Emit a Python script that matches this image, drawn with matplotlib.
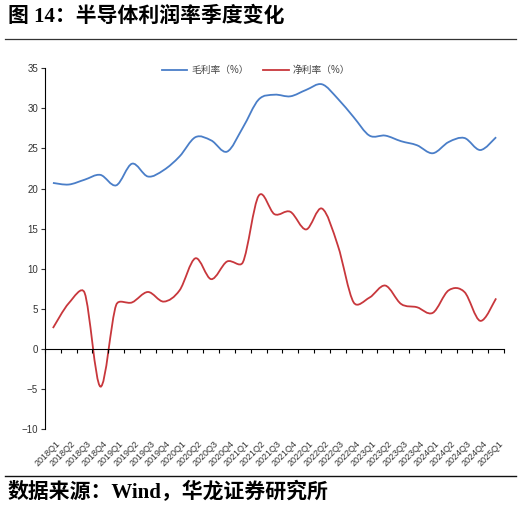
import numpy as np
import matplotlib
matplotlib.use('Agg')
import matplotlib.pyplot as plt
from matplotlib.path import Path
from matplotlib.patches import PathPatch
from matplotlib.lines import Line2D
import matplotlib.transforms as mtransforms

plt.rcParams['font.family'] = ['Liberation Sans', 'Noto Sans CJK SC', 'DejaVu Sans']

# quarters 2018Q1 .. 2025Q1
quarters = ['%dQ%d' % (y, q) for y in range(2018, 2026) for q in range(1, 5)][:29]

# gross margin (%)
gross = [20.7, 20.5, 21.1, 21.7, 20.4, 23.1, 21.5, 22.3, 24.0, 26.4,
         26.0, 24.6, 27.6, 31.1, 31.7, 31.5, 32.3, 33.0, 31.2, 28.9,
         26.6, 26.6, 25.9, 25.4, 24.4, 25.8, 26.3, 24.8, 26.4]
# net margin (%)
net = [2.6, 5.7, 7.0, -4.7, 5.5, 5.8, 7.1, 5.9, 7.3, 11.3,
       8.7, 10.9, 10.8, 19.1, 16.8, 17.1, 14.9, 17.5, 12.9, 5.8,
       6.4, 7.9, 5.6, 5.2, 4.5, 7.3, 7.1, 3.5, 6.3]

names = ['毛利率（%）', '净利率（%）']
colors = ['#4a7ec8', '#c8373c']
yticks = [35, 30, 25, 20, 15, 10, 5, 0, -5, -10]


def smooth_path(ax, x, y, cap=0.45):
    # excel-like smoothed line: catmull-rom bezier on screen, control arms
    # capped relative to the neighbouring segment length
    pts = ax.transData.transform(np.column_stack([x, y]).astype(float))
    n = len(pts)
    c_in = pts.copy()
    c_out = pts.copy()
    for i in range(n):
        p_prev = pts[max(i - 1, 0)]
        p_next = pts[min(i + 1, n - 1)]
        d = (p_next - p_prev) / 6.0
        arm = np.hypot(*d)
        if arm == 0:
            continue
        l_in = np.hypot(*(pts[i] - p_prev))
        l_out = np.hypot(*(p_next - pts[i]))
        c_out[i] = pts[i] + d * min(1.0, cap * l_out / arm)
        c_in[i] = pts[i] - d * min(1.0, cap * l_in / arm)
    verts = [pts[0]]
    codes = [Path.MOVETO]
    for i in range(n - 1):
        verts += [c_out[i], c_in[i + 1], pts[i + 1]]
        codes += [Path.CURVE4] * 3
    return Path(ax.transData.inverted().transform(np.array(verts)), codes)


fig = plt.figure(figsize=(5.21, 5.17), dpi=100)
ax = fig.add_axes([0.0864, 0.170, 0.881, 0.698])

x = np.arange(len(quarters))
ax.set_xlim(-0.5, len(quarters) - 0.5)
ax.set_ylim(-10, 35)
for vals, c in zip([gross, net], colors):
    ax.add_patch(PathPatch(smooth_path(ax, x, vals), facecolor='none', edgecolor=c, lw=1.3))

ax.set_yticks(yticks)
ax.tick_params(axis='y', labelsize=7, length=3, width=0.8, colors='#333333', pad=2)

ax.spines['top'].set_visible(False)
ax.spines['right'].set_visible(False)
ax.spines['bottom'].set_position(('data', 0))
ax.spines['left'].set_linewidth(0.8)
ax.spines['bottom'].set_linewidth(0.8)
ax.set_xticks(np.arange(len(quarters) + 1) - 0.5)
ax.set_xticklabels([])
ax.tick_params(axis='x', length=3, width=0.8, direction='out')

trans = mtransforms.blended_transform_factory(ax.transData, ax.transAxes)
for i, q in enumerate(quarters):
    ax.text(i + 0.15, -0.028, q, transform=trans, rotation=45, ha='right', va='top',
            fontsize=6.5, color='#333333', rotation_mode='anchor')

handles = [Line2D([], [], color=c, lw=1.3) for c in colors]
ax.legend(handles, names, loc='center', bbox_to_anchor=(0.46, 0.995), ncol=2,
          frameon=False, fontsize=7, handlelength=2.6, handletextpad=0.4,
          columnspacing=1.5, labelcolor='#444444')

title_font = ['Liberation Serif', 'Noto Sans CJK SC']
fig.text(0.015, 0.967, '图 14：半导体利润率季度变化', fontsize=15, fontweight='bold',
         family=title_font, va='center', ha='left')
fig.add_artist(Line2D([0.01, 0.99], [0.924, 0.924], color='#333333', lw=0.9))
fig.add_artist(Line2D([0.01, 0.99], [0.079, 0.079], color='#111111', lw=1.0))
fig.text(0.015, 0.048, '数据来源：Wind，华龙证券研究所', fontsize=15, fontweight='bold',
         family=title_font, va='center', ha='left')

fig.savefig('out.png', dpi=100)
